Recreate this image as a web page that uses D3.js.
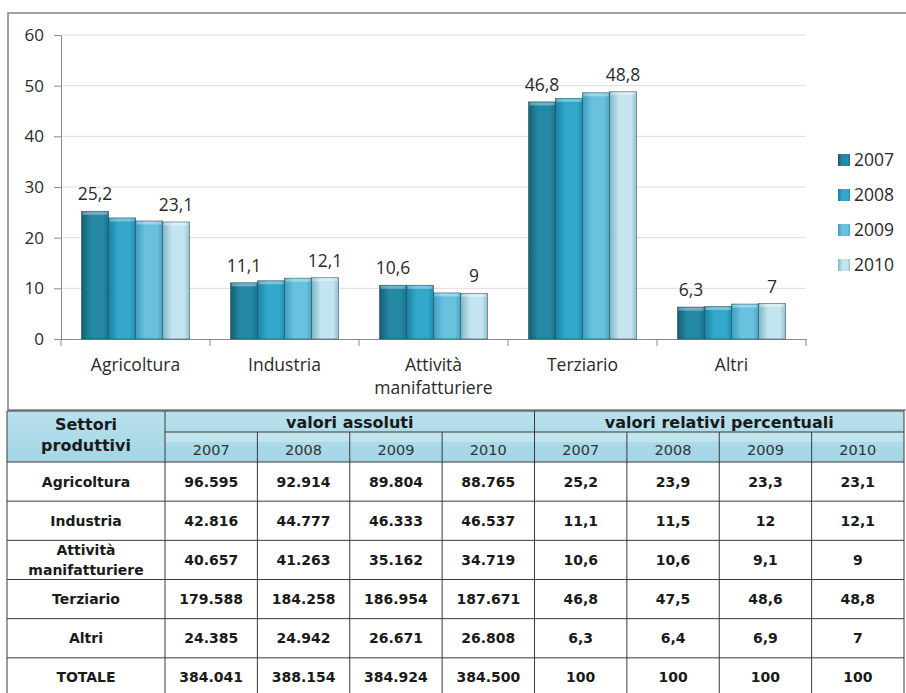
<!DOCTYPE html>
<html><head><meta charset="utf-8">
<script src="https://cdn.jsdelivr.net/npm/d3@7"></script>
<style>html,body{margin:0;padding:0;background:#fff;}svg{display:block;}</style>
</head><body>
<script>
// ---- data ----
const categories = ["Agricoltura", "Industria", "Attività manifatturiere", "Terziario", "Altri"];
const years = ["2007", "2008", "2009", "2010"];
const pct2007 = [25.2, 11.1, 10.6, 46.8, 6.3];
const pct2008 = [23.9, 11.5, 10.6, 47.5, 6.4];
const pct2009 = [23.3, 12, 9.1, 48.6, 6.9];
const pct2010 = [23.1, 12.1, 9, 48.8, 7];
const yTicks = [0, 10, 20, 30, 40, 50, 60];

const rowLabels = ["Agricoltura", "Industria", "Attività manifatturiere", "Terziario", "Altri", "TOTALE"];
const abs2007 = ["96.595", "42.816", "40.657", "179.588", "24.385", "384.041"];
const abs2008 = ["92.914", "44.777", "41.263", "184.258", "24.942", "388.154"];
const abs2009 = ["89.804", "46.333", "35.162", "186.954", "26.671", "384.924"];
const abs2010 = ["88.765", "46.537", "34.719", "187.671", "26.808", "384.500"];
const rel2007 = ["25,2", "11,1", "10,6", "46,8", "6,3", "100"];
const rel2008 = ["23,9", "11,5", "10,6", "47,5", "6,4", "100"];
const rel2009 = ["23,3", "12", "9,1", "48,6", "6,9", "100"];
const rel2010 = ["23,1", "12,1", "9", "48,8", "7", "100"];
const headGroups = ["valori assoluti", "valori relativi percentuali"];
const firstHead = ["Settori", "produttivi"];

const series = [pct2007, pct2008, pct2009, pct2010];
const fmt = v => String(v).replace(".", ",");

const W = 906, H = 693;
const svg = d3.select("body").append("svg").attr("width", W).attr("height", H);
const defs = svg.append("defs");

// bar gradients
const barCols = [
  ["#135f75", "#2588a4", "#19708a"],
  ["#1a80a0", "#33a8ca", "#208cad"],
  ["#3a9dbf", "#69c1de", "#47a6c5"],
  ["#7db4c6", "#c4e4ef", "#90c0d0"]
];
barCols.forEach((c, i) => {
  const g = defs.append("linearGradient").attr("id", "bg" + i).attr("x1", 0).attr("x2", 1).attr("y1", 0).attr("y2", 0);
  g.append("stop").attr("offset", "0%").attr("stop-color", c[0]);
  g.append("stop").attr("offset", "35%").attr("stop-color", c[1]);
  g.append("stop").attr("offset", "80%").attr("stop-color", c[1]);
  g.append("stop").attr("offset", "100%").attr("stop-color", c[2]);
});
const hg = defs.append("linearGradient").attr("id", "hdr").attr("x1", 0).attr("x2", 0).attr("y1", 0).attr("y2", 1);
hg.append("stop").attr("offset", "0%").attr("stop-color", "#b9e1ec");
hg.append("stop").attr("offset", "100%").attr("stop-color", "#a3d6e6");

// chart frame
svg.append("rect").attr("x", 8).attr("y", 13).attr("width", 920).attr("height", 397)
  .attr("fill", "#fff").attr("stroke", "#8a8a8a").attr("stroke-width", 1.6);

const chartFont = "'Open Sans', sans-serif";
const txtCol = "#2a2a2a";
const x0 = d3.scaleBand().domain(categories).range([61, 806]).paddingInner(0).paddingOuter(0);
const x1 = d3.scaleBand().domain(years).range([20.5, x0.bandwidth() - 20.5]).padding(0);
const y = d3.scaleLinear().domain([0, 60]).range([339, 35]);

// gridlines
svg.append("g").selectAll("line").data(yTicks.filter(t => t > 0)).join("line")
  .attr("x1", 61).attr("x2", 806).attr("y1", d => y(d)).attr("y2", d => y(d))
  .attr("stroke", "#e2dcdc").attr("stroke-width", 1);

// y axis
const yAxis = svg.append("g").attr("transform", "translate(61,0)")
  .call(d3.axisLeft(y).tickValues(yTicks).tickSize(7).tickPadding(10).tickFormat(d => d));
yAxis.select(".domain").attr("stroke", "#8a8a8a");
yAxis.selectAll(".tick line").attr("stroke", "#8a8a8a");
yAxis.selectAll("text").attr("font-family", chartFont).attr("font-size", 17).attr("fill", txtCol);

// x axis
const xAxis = svg.append("g").attr("transform", "translate(0,339)")
  .call(d3.axisBottom(x0).tickSize(0).tickFormat(""));
xAxis.select(".domain").attr("stroke", "#8a8a8a");
const boundaries = categories.map(c => x0(c)).concat([x0.range()[1]]);
svg.append("g").selectAll("line").data(boundaries).join("line")
  .attr("x1", d => d).attr("x2", d => d).attr("y1", 339).attr("y2", 346)
  .attr("stroke", "#8a8a8a");

// category labels
const catG = svg.append("g");
categories.forEach(c => {
  const words = c === "Attività manifatturiere" ? ["Attività", "manifatturiere"] : [c];
  const t = catG.append("text").attr("x", x0(c) + x0.bandwidth() / 2).attr("y", 371)
    .attr("text-anchor", "middle").attr("font-family", chartFont).attr("font-size", 17.5).attr("fill", txtCol);
  words.forEach((w, i) => t.append("tspan").attr("x", x0(c) + x0.bandwidth() / 2).attr("dy", i ? 23 : 0).text(w));
});

// bars
const groups = svg.append("g").selectAll("g").data(categories).join("g")
  .attr("transform", c => `translate(${x0(c)},0)`);
groups.selectAll("rect").data((c, ci) => years.map((yr, si) => ({ yr, si, v: series[si][ci] }))).join("rect")
  .attr("x", d => x1(d.yr)).attr("width", x1.bandwidth())
  .attr("y", d => y(d.v)).attr("height", d => y(0) - y(d.v))
  .attr("fill", d => `url(#bg${d.si})`).attr("stroke", "rgba(20,60,75,0.6)").attr("stroke-width", 0.8);
groups.selectAll("rect.top").data((c, ci) => years.map((yr, si) => ({ yr, si, v: series[si][ci] }))).join("rect")
  .attr("class", "top")
  .attr("x", d => x1(d.yr) + 1).attr("width", x1.bandwidth() - 2)
  .attr("y", d => y(d.v) + 0.5).attr("height", 3)
  .attr("fill", "rgba(255,255,255,0.35)");

// data labels (first and last year)
groups.selectAll("text.lbl").data((c, ci) => [0, 3].map(si => ({ yr: years[si], v: series[si][ci] }))).join("text")
  .attr("class", "lbl")
  .attr("x", d => x1(d.yr) + x1.bandwidth() / 2).attr("y", d => y(d.v) - 11)
  .attr("text-anchor", "middle").attr("font-family", chartFont).attr("font-size", 17.5).attr("fill", txtCol)
  .text(d => fmt(d.v));

// legend
const leg = svg.append("g").selectAll("g").data(years).join("g")
  .attr("transform", (d, i) => `translate(838,${160 + i * 35})`);
leg.append("rect").attr("x", 0).attr("y", -6).attr("width", 12).attr("height", 12)
  .attr("fill", (d, i) => `url(#bg${i})`);
leg.append("text").attr("x", 16).attr("y", 6).attr("font-family", chartFont).attr("font-size", 17.5).attr("fill", txtCol).text(d => d);

// ---- table ----
const tFont = "'DejaVu Sans', Verdana, sans-serif";
const tx0 = 7, tx1 = 165, tx2 = 904;
const colX = d3.scaleLinear().domain([0, 8]).range([tx1, tx2]);
const rowY = d3.scaleLinear().domain([0, 6]).range([462, 697]);
const tbl = svg.append("g");
// header bg
tbl.append("rect").attr("x", tx0).attr("y", 411).attr("width", tx2 - tx0).attr("height", 51).attr("fill", "url(#hdr)");
tbl.append("rect").attr("x", tx1).attr("y", 432).attr("width", tx2 - tx1).attr("height", 10).attr("fill", "rgba(255,255,255,0.25)");
// body bg
tbl.append("rect").attr("x", tx0).attr("y", 462).attr("width", tx2 - tx0).attr("height", 240).attr("fill", "#fff");

const lineCol = "#3a3a3a";
// horizontal lines
tbl.append("line").attr("x1", tx0).attr("x2", tx2).attr("y1", 411).attr("y2", 411).attr("stroke", lineCol);
tbl.append("line").attr("x1", tx1).attr("x2", tx2).attr("y1", 432).attr("y2", 432).attr("stroke", lineCol);
tbl.selectAll("line.h").data(d3.range(0, 7)).join("line").attr("class", "h")
  .attr("x1", tx0).attr("x2", tx2).attr("y1", d => rowY(d)).attr("y2", d => rowY(d))
  .attr("stroke", lineCol).attr("stroke-width", d => d === 0 ? 1.2 : 1);
// vertical lines
tbl.selectAll("line.v").data(d3.range(0, 9)).join("line").attr("class", "v")
  .attr("x1", d => colX(d)).attr("x2", d => colX(d))
  .attr("y1", d => (d === 0 || d === 4 || d === 8) ? 411 : 432).attr("y2", 700)
  .attr("stroke", lineCol);
tbl.append("line").attr("x1", tx0).attr("x2", tx0).attr("y1", 411).attr("y2", 700).attr("stroke", lineCol);

// header text
const ht = tbl.append("text").attr("x", (tx0 + tx1) / 2).attr("y", 430).attr("text-anchor", "middle")
  .attr("font-family", tFont).attr("font-weight", "bold").attr("font-size", 16).attr("fill", "#1a1a1a");
firstHead.forEach((w, i) => ht.append("tspan").attr("x", (tx0 + tx1) / 2).attr("dy", i ? 21 : 0).text(w));
tbl.selectAll("text.hg").data(headGroups).join("text").attr("class", "hg")
  .attr("x", (d, i) => (colX(i * 4) + colX(i * 4 + 4)) / 2).attr("y", 428)
  .attr("text-anchor", "middle").attr("font-family", tFont).attr("font-weight", "bold").attr("font-size", 16)
  .attr("fill", "#1a1a1a").text(d => d);
tbl.selectAll("text.yr").data(years.concat(years)).join("text").attr("class", "yr")
  .attr("x", (d, i) => (colX(i) + colX(i + 1)) / 2).attr("y", 455)
  .attr("text-anchor", "middle").attr("font-family", tFont).attr("font-size", 14.5)
  .attr("fill", "#333").text(d => d);

// body
const cols = [abs2007, abs2008, abs2009, abs2010, rel2007, rel2008, rel2009, rel2010];
rowLabels.forEach((r, ri) => {
  const cy = (rowY(ri) + rowY(ri + 1)) / 2;
  const words = r === "Attività manifatturiere" ? ["Attività", "manifatturiere"] : [r];
  const t = tbl.append("text").attr("x", (tx0 + tx1) / 2).attr("y", cy + 5 - (words.length - 1) * 10)
    .attr("text-anchor", "middle").attr("font-family", tFont).attr("font-weight", "bold").attr("font-size", 14).attr("fill", "#1a1a1a");
  words.forEach((w, i) => t.append("tspan").attr("x", (tx0 + tx1) / 2).attr("dy", i ? 20 : 0).text(w));
  cols.forEach((col, ci) => {
    tbl.append("text").attr("x", (colX(ci) + colX(ci + 1)) / 2).attr("y", cy + 5)
      .attr("text-anchor", "middle").attr("font-family", tFont).attr("font-weight", "bold").attr("font-size", 14)
      .attr("fill", "#1a1a1a").text(col[ri]);
  });
});
</script>
</body></html>
